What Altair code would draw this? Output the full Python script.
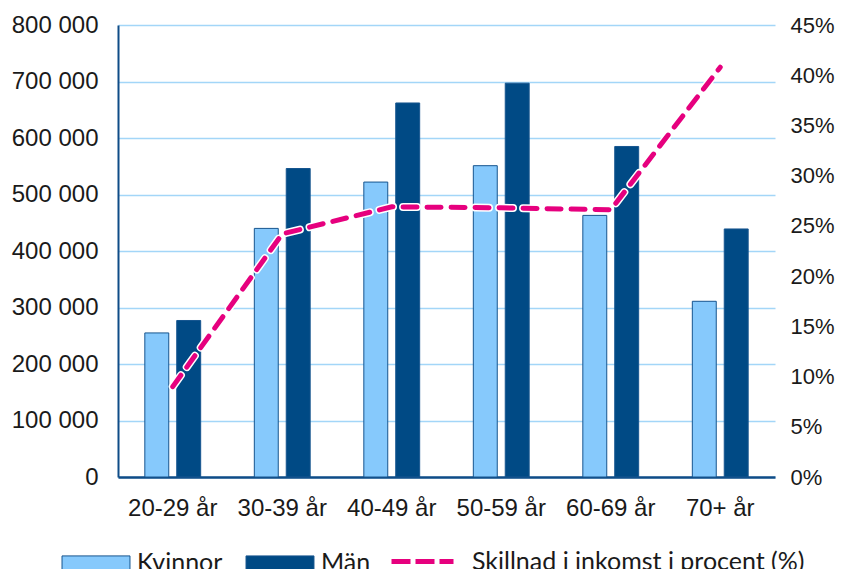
import altair as alt
import pandas as pd

categories = ["20-29 år", "30-39 år", "40-49 år", "50-59 år", "60-69 år", "70+ år"]
kvinnor = [255000, 440000, 522000, 551000, 463000, 311000]
man = [277000, 546000, 662000, 697000, 585000, 439000]
skillnad = [9.0, 24.2, 26.9, 26.8, 26.6, 40.8]
series_bars = ["Kvinnor", "Män"]
series_line = "Skillnad i inkomst i procent (%)"

bars_df = pd.DataFrame({
    "alder": categories * 2,
    "kon": [series_bars[0]] * len(categories) + [series_bars[1]] * len(categories),
    "inkomst": kvinnor + man,
})
line_df = pd.DataFrame({
    "alder": categories,
    "serie": [series_line] * len(categories),
    "procent": skillnad,
})

AXIS_BLUE = "#0F4C87"
GRID_BLUE = "#A3D6F8"
LIGHT = "#86C9FC"
DARK = "#004A85"
PINK = "#E6007E"
FS = 24

x_enc = alt.X(
    "alder:N", sort=categories,
    scale=alt.Scale(paddingInner=0.49, paddingOuter=0.245),
    axis=alt.Axis(title=None, labelAngle=0, labelFontSize=FS, labelFont="Liberation Sans",
                  labelColor="#1a1a1a", domainColor=AXIS_BLUE, domainWidth=2.5,
                  ticks=False, labelPadding=19, grid=False),
)

y_left = alt.Y(
    "inkomst:Q",
    scale=alt.Scale(domain=[0, 800000], nice=False),
    axis=alt.Axis(title=None, values=list(range(0, 800001, 100000)),
                  labelExpr="replace(format(datum.value, ','), ',', ' ')",
                  labelFontSize=FS, labelFont="Liberation Sans", labelColor="#1a1a1a",
                  grid=True, gridColor=GRID_BLUE, gridWidth=1.5,
                  domainColor=AXIS_BLUE, domainWidth=2, ticks=False, labelPadding=20,
                  orient="left"),
)

y_right = alt.Y(
    "procent:Q",
    scale=alt.Scale(domain=[0, 45], nice=False),
    axis=alt.Axis(title=None, values=list(range(0, 46, 5)),
                  labelExpr="datum.value + '%'",
                  labelFontSize=22, labelFont="Liberation Sans", labelColor="#1a1a1a",
                  grid=False, domain=False, ticks=False, labelPadding=15, orient="right"),
)

bars = alt.Chart(bars_df).mark_bar(stroke="#16558F", strokeWidth=1).encode(
    x=x_enc,
    xOffset=alt.XOffset("kon:N", sort=series_bars,
                        scale=alt.Scale(paddingInner=0.25, paddingOuter=0)),
    y=y_left,
    fill=alt.Fill("kon:N", sort=series_bars,
                  scale=alt.Scale(domain=series_bars, range=[LIGHT, DARK]),
                  legend=alt.Legend(title=None, orient="none", legendX=-37, legendY=523,
                                    direction="horizontal",
                                    symbolType="M-2.4,-0.5L2.4,-0.5L2.4,0.5L-2.4,0.5Z",
                                    symbolSize=802, symbolStrokeColor="#16558F",
                                    symbolStrokeWidth=1, symbolOpacity=1,
                                    labelFontSize=25, labelFont="Lato", labelColor="#1a1a1a",
                                    labelOffset=26, columnPadding=21, padding=0)),
)

halo = alt.Chart(line_df).mark_line(color="white", strokeWidth=8, strokeDash=[14, 10],
                                    strokeCap="round").encode(x=x_enc, y=y_right)
line = alt.Chart(line_df).mark_line(strokeWidth=5, strokeDash=[14, 10],
                                    strokeCap="round").encode(
    x=x_enc, y=y_right,
    stroke=alt.Stroke("serie:N", scale=alt.Scale(domain=[series_line], range=[PINK]),
                      legend=alt.Legend(title=None, orient="none", legendX=271, legendY=503,
                                        symbolType="stroke", symbolSize=3844,
                                        symbolStrokeWidth=5, symbolDash=[19, 5],
                                        labelFontSize=25, labelFont="Lato", labelLimit=0,
                                        labelColor="#1a1a1a", labelOffset=16, padding=0)),
)

chart = alt.layer(bars, alt.layer(halo, line)).resolve_scale(y="independent").properties(
    width=657, height=452,
    padding={"left": 110, "top": 17, "right": 61, "bottom": 92},
    autosize=alt.AutoSizeParams(type="none"),
    background="white",
).configure_view(stroke=None)

chart.save("out.html", embed_options={"renderer": "svg", "actions": False})
